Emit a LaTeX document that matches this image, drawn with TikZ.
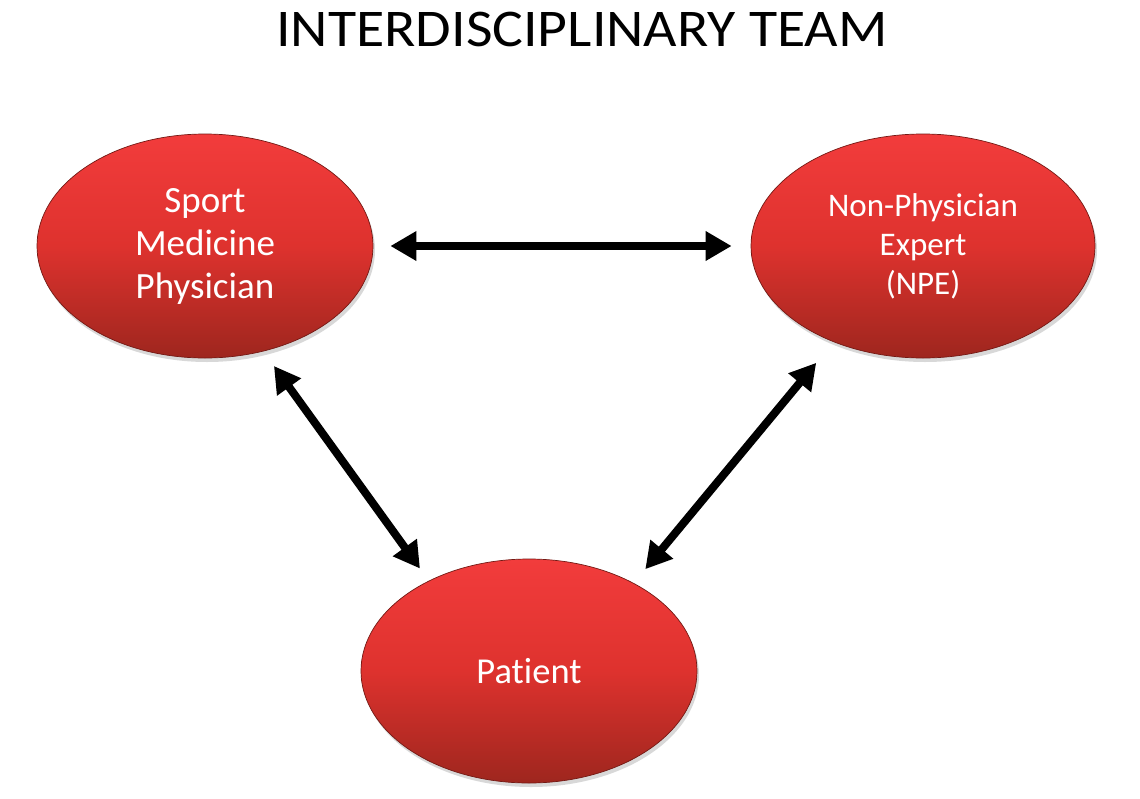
\documentclass[tikz,border=0pt]{standalone}
\usepackage{fontspec}
\setmainfont{Carlito}[Ligatures=NoCommon]
\usetikzlibrary{shapes.geometric,arrows.meta,shadows}
\definecolor{ellTop}{RGB}{242,60,60}
\definecolor{ellMid}{RGB}{222,50,46}
\definecolor{ellBot}{RGB}{158,38,30}
\definecolor{ellEdge}{RGB}{115,25,20}
\begin{document}
\begin{tikzpicture}[x=1pt,y=-1pt,
  bubble/.style={ellipse, minimum width=336pt, minimum height=224pt, inner sep=0pt,
    top color=ellTop, bottom color=ellBot, middle color=ellMid,
    draw=ellEdge, line width=0.7pt, text=white, align=center,
    font=\fontsize{37}{43}\selectfont,
    drop shadow={opacity=0.3, shadow xshift=2pt, shadow yshift=-4pt}},
  link/.style={line width=8pt, {Triangle[length=26pt,width=28pt]}-{Triangle[length=26pt,width=28pt]}},
  title/.style={anchor=base, font=\fontsize{53}{60}\selectfont}
]
\useasboundingbox[fill=white] (0,0) rectangle (1140,798);
\node[title] (ttl) at (582,46) {\scalebox{1.09}[1]{INTERDISCIPLINARY TEAM}};
\node[bubble] (spm) at (205,246) {Sport\\Medicine\\Physician};
\node[bubble, minimum width=344pt, font=\fontsize{33}{39}\selectfont] (npe) at (923,246) {Non-Physician\\Expert\\(NPE)};
\node[bubble, font=\fontsize{36.5}{43}\selectfont] (pat) at (529,671) {Patient};
\draw[link, shorten <=17pt, shorten >=19pt] (spm.east) -- (npe.west);
\draw[link, shorten <=18pt, shorten >=15pt] (spm.-61) -- (pat.138.5);
\draw[link, shorten <=27pt, shorten >=18pt] (npe.227) -- (pat.40);
\end{tikzpicture}
\end{document}
